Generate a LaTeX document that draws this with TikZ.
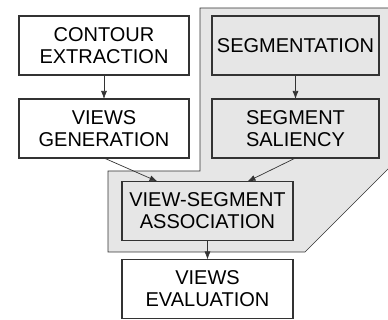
\documentclass[tikz,border=0pt]{standalone}
\usepackage{fontspec}
\setmainfont{Liberation Sans}
\usepackage{tikz}
\usetikzlibrary{positioning,arrows,arrows.meta}
\definecolor{panelgray}{HTML}{E6E6E6}
\definecolor{linegray}{HTML}{333333}
\tikzset{
stepbox/.style = {rectangle, draw=linegray, line width=1.1pt, minimum width=#1, minimum height=59pt, align=center, inner sep=2pt, outer sep=0pt, font=\fontsize{20}{22}\selectfont},
stepbox/.default = 170pt % box width
}
\tikzset{g/.style={fill=panelgray}}
\tikzset{w/.style={fill=white}}
\tikzset{flow/.style={-{Latex[length=8pt,width=6pt]}, draw=linegray, line width=0.7pt}}

\begin{document}
\begin{tikzpicture}[x=1pt, y=1pt, node distance=24pt]
    \clip (0,0) rectangle (388,-320);
    % shaded panel behind the segmentation branch
    \draw[fill=panelgray, draw=linegray, line width=0.6pt]
        (200,-8) -- (392,-8) -- (392,-165) -- (305,-252) -- (108,-252)
        -- (108,-171) -- (200,-171) -- cycle;
    \node [stepbox, w] (contour) at (104,-45.5) {CONTOUR\\EXTRACTION};
    \node [stepbox, w, below=of contour] (views) {VIEWS\\GENERATION};
    \node [stepbox=167pt, g, right=23pt of contour] (segm) {SEGMENTATION};
    \node [stepbox=167pt, g, below=of segm] (saliency) {SEGMENT\\SALIENCY};
    \node [stepbox=171pt, g] (assoc) at (207.5,-211) {VIEW-SEGMENT\\ASSOCIATION};
    \node [stepbox=171pt, w, below=19pt of assoc] (evaluation) {VIEWS\\EVALUATION};
    \draw [flow] (contour) -- (views);
    \draw [flow] (segm) -- (saliency);
    \draw [flow] (views.south) -- ([xshift=-50pt]assoc.north);
    \draw [flow] (saliency.south) -- ([xshift=40pt]assoc.north);
    \draw [flow] (assoc) -- (evaluation);
\end{tikzpicture}
\end{document}
